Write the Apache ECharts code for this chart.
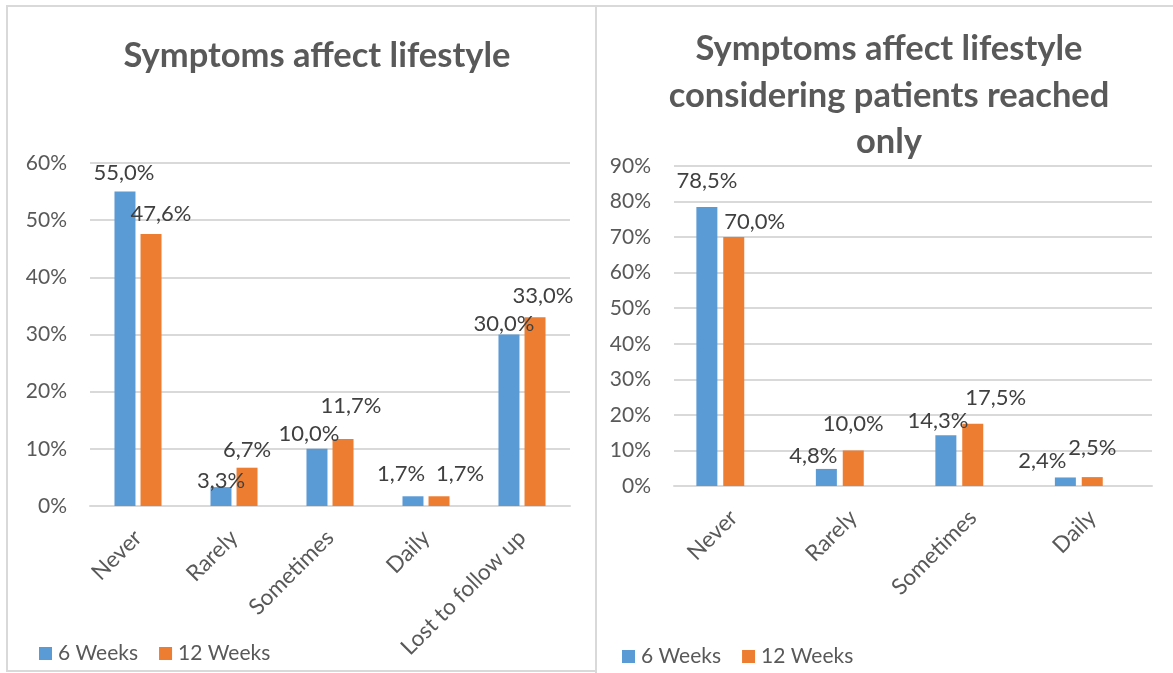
<!DOCTYPE html>
<html><head><meta charset="utf-8">
<script src="https://cdn.jsdelivr.net/npm/echarts@6/dist/echarts.min.js"></script>
<style>html,body{margin:0;padding:0;background:#fff}#c{width:1173px;height:673px}</style>
</head><body><div id="c"></div>
<script>
// ---- data ----
const categoriesAll = ['Never', 'Rarely', 'Sometimes', 'Daily', 'Lost to follow up'];
const weeks6All = [55.0, 3.3, 10.0, 1.7, 30.0];
const weeks12All = [47.6, 6.7, 11.7, 1.7, 33.0];

const categoriesReached = ['Never', 'Rarely', 'Sometimes', 'Daily'];
const weeks6Reached = [78.5, 4.8, 14.3, 2.4];
const weeks12Reached = [70.0, 10.0, 17.5, 2.5];

const seriesNames = ['6 Weeks', '12 Weeks'];
const titleAll = 'Symptoms affect lifestyle';
const titleReached = 'Symptoms affect lifestyle\nconsidering patients reached\nonly';
const yMaxAll = 60, yMaxReached = 90, yStep = 10;

// ---- style ----
const BLUE = '#5B9BD5', ORANGE = '#ED7D31', GRID = '#d9d9d9', AXIS_TXT = '#595959', LBL_TXT = '#404040';
const FONT = 'Lato';
const LFS = 22;
// manual label nudges (as in the original, labels were hand placed): [dx, dy of label centre from bar top]
const nudge = {
  all6:  [[-1,-19],[0,-6],[-8,-15],[-12,-22],[-5,-11]],
  all12: [[10,-20],[0,-18],[8,-33],[21,-22],[8,-21]],
  re6:   [[0,-26],[-13,-13],[-8,-14],[-23,-17]],
  re12:  [[21,-15.5],[0,-27],[23,-26],[0,-29]]
};
const fmt = p => (p.value == null ? '' : p.value.toFixed(1).replace('.', ',') + '%');
function items(vals, nd) {
  return vals.map((v, i) => ({ value: v, label: { offset: [nd[i][0], nd[i][1] + LFS / 2] } }));
}
function barSeries(name, vals, nd, color, idx, gap) {
  return {
    type: 'bar', name, xAxisIndex: idx, yAxisIndex: idx,
    data: items(vals, nd), barWidth: 21, barGap: gap,
    itemStyle: { color },
    label: { show: true, position: 'top', distance: 0, formatter: fmt,
      fontFamily: FONT, fontSize: LFS, color: LBL_TXT },
    emphasis: { disabled: true }
  };
}
function xAx(cats, idx) {
  return { type: 'category', gridIndex: idx, data: cats,
    axisLine: { lineStyle: { color: GRID, width: 2 } }, axisTick: { show: false },
    axisLabel: { rotate: 45, margin: 28, fontFamily: FONT, fontSize: 22.5, color: AXIS_TXT, interval: 0 } };
}
function yAx(max, idx) {
  return { type: 'value', gridIndex: idx, min: 0, max, interval: yStep,
    axisLine: { show: false }, axisTick: { show: false },
    splitLine: { lineStyle: { color: GRID, width: 2 } },
    axisLabel: { formatter: '{value}%', margin: 23, fontFamily: FONT, fontSize: 21, color: AXIS_TXT } };
}
const legendBase = { icon: 'rect', itemWidth: 13, itemHeight: 13, itemGap: 21, data: seriesNames,
  textStyle: { fontFamily: FONT, fontSize: 21, color: AXIS_TXT, padding: [0, 0, 0, 1] } };

const chart = echarts.init(document.getElementById('c'), null, { renderer: 'canvas' });
chart.setOption({
  animation: false,
  backgroundColor: '#fff',
  graphic: [
    { type: 'rect', shape: { x: 7, y: 6, width: 589, height: 665 }, style: { fill: 'none', stroke: GRID, lineWidth: 2 }, silent: true },
    { type: 'rect', shape: { x: 596, y: 6, width: 620, height: 700 }, style: { fill: 'none', stroke: GRID, lineWidth: 2 }, silent: true }
  ],
  title: [
    { text: titleAll, left: 312, top: 31, textAlign: 'center',
      textStyle: { fontFamily: FONT, fontWeight: 'bold', fontSize: 34.5, lineHeight: 40, color: AXIS_TXT } },
    { text: titleReached, left: 884, top: 21, textAlign: 'center',
      textStyle: { fontFamily: FONT, fontWeight: 'bold', fontSize: 34.5, lineHeight: 46.5, color: AXIS_TXT } }
  ],
  legend: [
    Object.assign({ left: 34, top: 638 }, legendBase),
    Object.assign({ left: 617, top: 641 }, legendBase)
  ],
  grid: [
    { left: 90, top: 163, width: 480, height: 343 },
    { left: 674, top: 166, width: 478, height: 320 }
  ],
  xAxis: [xAx(categoriesAll, 0), xAx(categoriesReached, 1)],
  yAxis: [yAx(yMaxAll, 0), yAx(yMaxReached, 1)],
  series: [
    barSeries(seriesNames[0], weeks6All, nudge.all6, BLUE, 0, '24%'),
    barSeries(seriesNames[1], weeks12All, nudge.all12, ORANGE, 0, '24%'),
    barSeries(seriesNames[0], weeks6Reached, nudge.re6, BLUE, 1, '28%'),
    barSeries(seriesNames[1], weeks12Reached, nudge.re12, ORANGE, 1, '28%'),
    // empty slot (no data) that keeps the right-hand bar groups left of centre, as in the original
    { type: 'bar', name: 'spacer', xAxisIndex: 1, yAxisIndex: 1, data: [], barWidth: 21, barGap: '28%', silent: true }
  ]
});
</script></body></html>
